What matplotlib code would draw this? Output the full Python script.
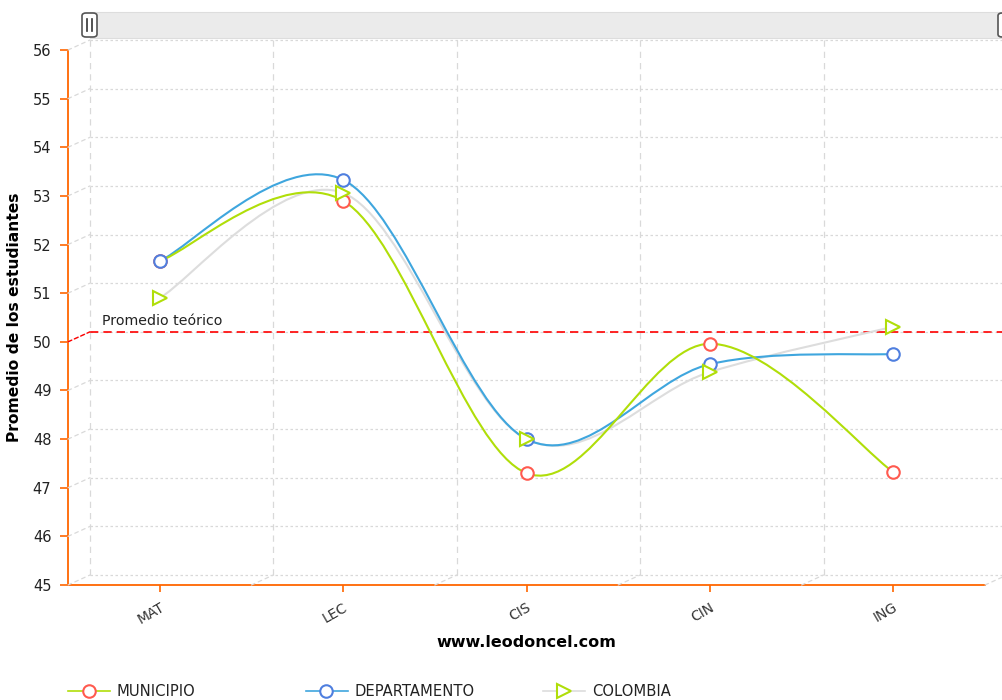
import numpy as np
import matplotlib
matplotlib.use('Agg')
import matplotlib.pyplot as plt
from matplotlib.path import Path
from matplotlib.patches import PathPatch, Rectangle, FancyBboxPatch, ConnectionPatch
from matplotlib.lines import Line2D

# Data
categories = ['MAT', 'LEC', 'CIS', 'CIN', 'ING']
municipio = [51.66, 52.90, 47.30, 49.96, 47.32]
departamento = [51.66, 53.33, 48.00, 49.54, 49.75]
colombia = [50.90, 53.06, 48.00, 49.38, 50.31]
promedio_teorico = 50
y_ticks = list(range(45, 57))

W, H = 1003, 700
DX, DY = 22, 10  # 3D depth offset in px
ORANGE = '#FF6600'
GRID = '#d9d9d9'
TXT = '#222222'


def px(x, y):
    # pixel from top-left -> figure fraction
    return x / W, 1 - y / H


def smooth_path(xs, ys):
    # amCharts-like bezier smoothing
    pts = list(zip(xs, ys))
    verts = [pts[0]]
    codes = [Path.MOVETO]
    n = len(pts)
    for i in range(n - 1):
        p0 = pts[i - 1] if i > 0 else pts[i]
        p1 = pts[i]
        p2 = pts[i + 1]
        p3 = pts[i + 2] if i + 2 < n else p2
        c1 = (p1[0] + (p2[0] - p0[0]) / 6, p1[1] + (p2[1] - p0[1]) / 6)
        c2 = (p2[0] - (p3[0] - p1[0]) / 6, p2[1] - (p3[1] - p1[1]) / 6)
        verts += [c1, c2, p2]
        codes += [Path.CURVE4] * 3
    return Path(verts, codes)


fig = plt.figure(figsize=(W / 100, H / 100), dpi=100)

l, b = px(68, 585)
r, t = px(985, 50)
aw, ah = r - l, t - b

# back wall axes
axb = fig.add_axes([l + DX / W, b + DY / H, aw, ah])
axf = fig.add_axes([l, b, aw, ah])
for a in (axb, axf):
    a.set_xlim(-0.5, len(categories) - 0.5)
    a.set_ylim(45, 56)
axb.axis('off')
axf.patch.set_alpha(0)

x = np.arange(len(categories))

# back grid
for v in y_ticks:
    axb.plot([-0.5, len(categories) - 0.5], [v, v], color=GRID, lw=0.9,
             dashes=(2, 2), clip_on=False, zorder=0)
for k in range(len(categories) + 1):
    axb.plot([k - 0.5, k - 0.5], [45, 56], color=GRID, lw=0.9,
             dashes=(5, 4), clip_on=False, zorder=0)

# depth connectors
for v in y_ticks:
    con = ConnectionPatch((-0.5, v), (-0.5, v), 'data', 'data', axesA=axf, axesB=axb,
                          color=GRID, lw=0.9, linestyle=(0, (3, 3)))
    fig.add_artist(con)
for k in range(1, len(categories) + 1):
    con = ConnectionPatch((k - 0.5, 45), (k - 0.5, 45), 'data', 'data', axesA=axf, axesB=axb,
                          color=GRID, lw=0.9, linestyle=(0, (3, 3)))
    fig.add_artist(con)

# guide line
axb.plot([-0.5, len(categories) - 0.5], [promedio_teorico] * 2, color='#FF0000',
         lw=1.2, dashes=(5, 3), clip_on=False, zorder=1)
fig.add_artist(ConnectionPatch((-0.5, promedio_teorico), (-0.5, promedio_teorico), 'data', 'data',
                               axesA=axf, axesB=axb, color='#FF0000', lw=1.0,
                               linestyle=(0, (3, 2))))
axb.annotate('Promedio teórico', (-0.5, promedio_teorico), xytext=(9, 3),
             textcoords='offset points', fontsize=10.2, color=TXT, va='bottom', ha='left')

# series
series = [
    ('MUNICIPIO', municipio, '#B0DE09', 'o', '#FF5A4F'),
    ('DEPARTAMENTO', departamento, '#3FA6DE', 'o', '#4F7FDF'),
    ('COLOMBIA', colombia, '#DDDDDD', '>', '#B0DE09'),
]
for z, (name, vals, lc, mk, mc) in zip([4, 3, 2], series):
    axf.add_patch(PathPatch(smooth_path(x, vals), fc='none', ec=lc, lw=1.5, zorder=z))
for name, vals, lc, mk, mc in series:
    axf.plot(x, vals, linestyle='none', marker=mk, ms=9 if mk == 'o' else 9.5,
             mfc='white', mec=mc, mew=1.5, zorder=6)

# axes styling
for s in ['top', 'right']:
    axf.spines[s].set_visible(False)
for s in ['left', 'bottom']:
    axf.spines[s].set_color(ORANGE)
    axf.spines[s].set_linewidth(1.3)
axf.set_yticks(y_ticks)
axf.set_xticks(x)
axf.set_xticklabels(categories, rotation=30, ha='right', rotation_mode='anchor')
axf.tick_params(axis='y', colors=ORANGE, labelcolor=TXT, length=6, width=1.2,
                labelsize=10.5, pad=6)
axf.tick_params(axis='x', colors=ORANGE, labelcolor='#333333', length=5, width=1.2,
                labelsize=10, pad=6)
axf.set_ylabel('Promedio de los estudiantes', fontsize=11.2, fontweight='bold', color='black')
axf.yaxis.set_label_coords(-46 / 917, 0.5)
axf.set_xlabel('www.leodoncel.com', fontsize=11.5, fontweight='bold', color='black')
axf.xaxis.set_label_coords(0.5, -50 / 535)

# scrollbar
x0, y0 = px(90, 38)
x1, y1 = px(1003, 12)
fig.add_artist(Rectangle((x0, y0), x1 - x0, y1 - y0, transform=fig.transFigure,
                         fc='#ebebeb', ec='#dddddd', lw=0.8))
for hx in (82, 998):
    hx0, hy0 = px(hx, 37)
    hx1, hy1 = px(hx + 15, 13)
    fig.add_artist(FancyBboxPatch((hx0, hy0), hx1 - hx0, hy1 - hy0,
                                  boxstyle='round,pad=0,rounding_size=0.004',
                                  transform=fig.transFigure, fc='white', ec='#555555', lw=1.2))
    for gx in (hx + 5.5, hx + 9.5):
        fig.add_artist(Line2D([gx / W, gx / W], [1 - 19 / H, 1 - 31 / H],
                              transform=fig.transFigure, color='#333333', lw=1.2))

# legend
for i, (name, vals, lc, mk, mc) in enumerate(series):
    lx = 68 + 237.5 * i
    ly = 1 - 691 / H
    fig.add_artist(Line2D([lx / W, (lx + 42) / W], [ly, ly], transform=fig.transFigure,
                          color=lc, lw=1.2))
    fig.add_artist(Line2D([(lx + 21) / W], [ly], transform=fig.transFigure, linestyle='none',
                          marker=mk, ms=9 if mk == 'o' else 9.5, mfc='white', mec=mc, mew=1.5))
    fig.text((lx + 49) / W, ly, name, fontsize=10.6, color=TXT, va='center', ha='left')

fig.savefig('out.png', dpi=100)
